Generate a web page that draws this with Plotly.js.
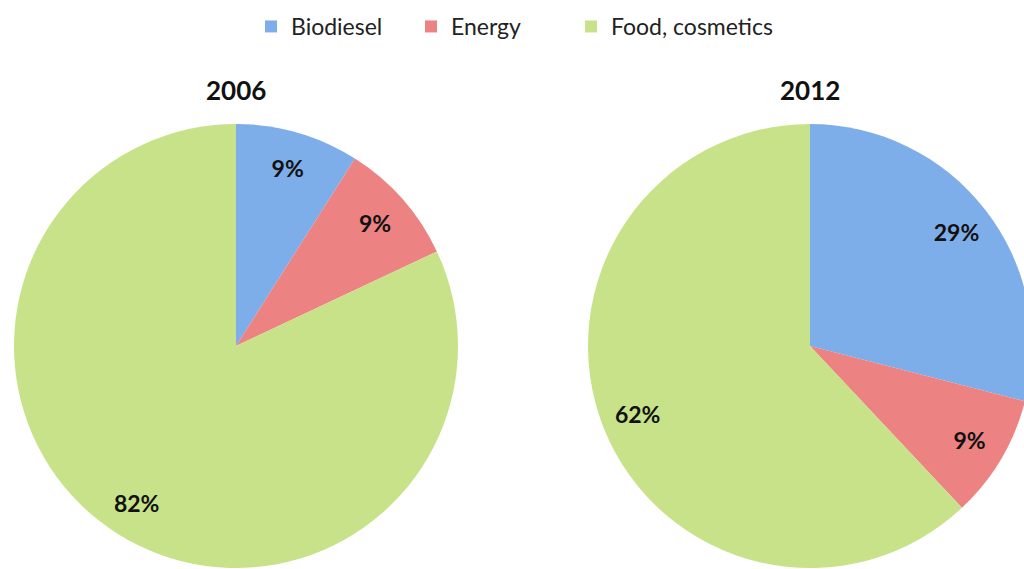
<!DOCTYPE html>
<html>
<head>
<meta charset="utf-8">
<script src="https://cdn.plot.ly/plotly-3.0.1.min.js"></script>
<style>
html,body{margin:0;padding:0;overflow:hidden;background:#fff;width:1024px;height:569px;}
#chart{width:1040px;height:569px;}
#chart .legend .scrollbox{clip-path:none !important;}
</style>
</head>
<body>
<div id="chart"></div>
<script>
const categories = ["Biodiesel", "Energy", "Food, cosmetics"];
const years = ["2006", "2012"];
const values2006 = [9, 9, 82];
const values2012 = [29, 9, 62];
const colors = ["#7eaeea", "#ec8281", "#c8e289"];

const FONT = "Lato, 'Open Sans', sans-serif";
const W = 1040, H = 569, R = 222;
function dom(cx, cy) {
  return {x: [(cx - R) / W, (cx + R) / W], y: [(H - cy - R) / H, (H - cy + R) / H]};
}
const doms = [dom(236, 346), dom(810, 346)];
const valueSets = [values2006, values2012];

const data = [];
valueSets.forEach(function (vals, i) {
  // visible pie (slices)
  data.push({
    type: "pie",
    labels: categories,
    values: vals,
    sort: false,
    direction: "clockwise",
    rotation: 0,
    marker: {colors: colors, line: {width: 0}},
    textinfo: "none",
    hoverinfo: "label+percent",
    showlegend: i === 0,
    domain: doms[i]
  });
  // transparent ring carrying the percentage labels near the rim
  data.push({
    type: "pie",
    labels: categories,
    values: vals,
    sort: false,
    direction: "clockwise",
    rotation: 0,
    hole: 0.67,
    marker: {colors: ["rgba(0,0,0,0)", "rgba(0,0,0,0)", "rgba(0,0,0,0)"], line: {width: 0}},
    texttemplate: "%{value}%",
    textposition: "inside",
    insidetextorientation: "horizontal",
    textfont: {family: FONT, size: 23, color: "#111", weight: "bold"},
    hoverinfo: "skip",
    showlegend: false,
    domain: doms[i]
  });
});

const annotations = years.map(function (y, i) {
  return {
    text: "<b>" + y + "</b>",
    xref: "paper", yref: "paper",
    x: (doms[i].x[0] + doms[i].x[1]) / 2,
    y: doms[i].y[1] + 34 / H,
    xanchor: "center", yanchor: "middle",
    showarrow: false,
    font: {family: FONT, size: 26, color: "#111"}
  };
});

const layout = {
  width: W, height: H,
  margin: {l: 0, r: 0, t: 0, b: 0},
  paper_bgcolor: "#fff",
  showlegend: true,
  legend: {orientation: "h", x: 251 / W, xanchor: "left", y: 1 - 5 / H, yanchor: "top",
           font: {family: FONT, size: 23, color: "#222"},
           bgcolor: "rgba(0,0,0,0)",
           entrywidth: 115, entrywidthmode: "pixels"},
  annotations: annotations,
  font: {family: FONT}
};

Plotly.newPlot("chart", data, layout, {displayModeBar: false, staticPlot: true});
</script>
</body>
</html>
